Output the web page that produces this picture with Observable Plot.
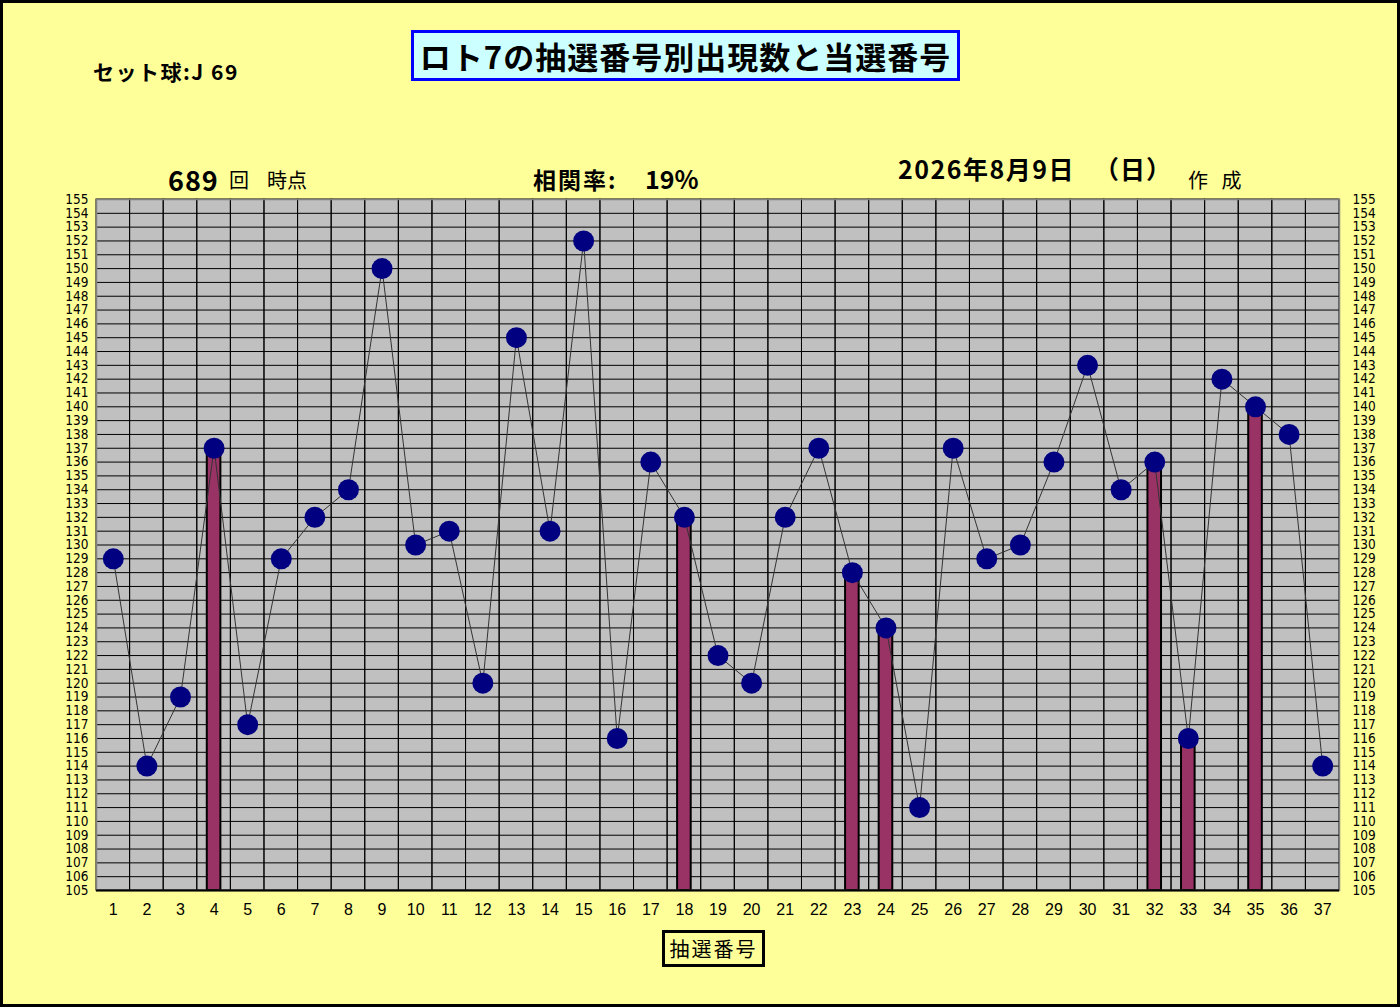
<!DOCTYPE html>
<html><head><meta charset="utf-8">
<script src="https://cdn.jsdelivr.net/npm/d3@7"></script>
<script src="https://cdn.jsdelivr.net/npm/@observablehq/plot@0.6"></script>
<style>
body{margin:0;background:#FFFF99;}
#wrap{position:relative;width:1400px;height:1007px;background:#FFFF99;overflow:hidden;font-family:"Noto Sans CJK JP","Noto Sans",sans-serif;}
#frame{position:absolute;left:0;top:0;width:1400px;height:1007px;box-sizing:border-box;border:3px solid #000;pointer-events:none;}
.t{position:absolute;white-space:nowrap;color:#000;line-height:1;}
#chart{position:absolute;left:0;top:0;}
</style></head><body>
<div id="wrap">
<div id="chart"></div>
<div class="t" style="left:411px;top:30px;width:543px;height:45px;border:3px solid #0000FF;background:#CCFFFF;font-size:31px;font-weight:bold;line-height:45px;text-align:center;letter-spacing:1px;">ロト7の抽選番号別出現数と当選番号</div>
<div class="t" style="left:93px;top:61px;font-size:21px;font-weight:bold;letter-spacing:1.5px;">セット球:J 69</div>
<div class="t" style="left:168px;top:166px;font-size:27px;font-weight:bold;letter-spacing:1px;">689</div>
<div class="t" style="left:229px;top:170px;font-size:20px;">回</div>
<div class="t" style="left:267px;top:170px;font-size:20px;">時点</div>
<div class="t" style="left:533px;top:168px;font-size:23px;font-weight:bold;letter-spacing:2px;">相関率:</div>
<div class="t" style="left:645px;top:166px;font-size:25px;font-weight:bold;">19%</div>
<div class="t" style="left:898px;top:156px;font-size:25px;font-weight:bold;letter-spacing:1.5px;">2026年8月9日</div>
<div class="t" style="left:1094px;top:156px;font-size:25px;font-weight:bold;letter-spacing:1px;">（日）</div>
<div class="t" style="left:1188px;top:170px;font-size:20px;">作&nbsp;&nbsp;&nbsp;成</div>
<div class="t" style="left:662px;top:930px;width:97px;height:31px;border:3px solid #000;background:#FFFF99;font-size:20px;line-height:31px;text-align:center;letter-spacing:2px;">抽選番号</div>
<div id="frame"></div>
</div>
<script>
const numbers = [1,2,3,4,5,6,7,8,9,10,11,12,13,14,15,16,17,18,19,20,21,22,23,24,25,26,27,28,29,30,31,32,33,34,35,36,37];
const counts = [129,114,119,137,117,129,132,134,150,130,131,120,145,131,152,116,136,132,122,120,132,137,128,124,111,137,129,130,136,143,134,136,116,142,140,138,114];
const winners = [4,18,23,24,32,33,35];
const yTicks = [105,106,107,108,109,110,111,112,113,114,115,116,117,118,119,120,121,122,123,124,125,126,127,128,129,130,131,132,133,134,135,136,137,138,139,140,141,142,143,144,145,146,147,148,149,150,151,152,153,154,155];
const yMin = 105, yMax = 155;

const rows = numbers.map((n, i) => ({n, c: counts[i], win: winners.includes(n)}));
const winRows = rows.filter(d => d.win);

const narrow = '"Liberation Sans Narrow","DejaVu Sans Condensed","Arial Narrow",sans-serif';

const chart = Plot.plot({
  width: 1400,
  height: 1007,
  marginLeft: 96,
  marginRight: 61,
  marginTop: 199,
  marginBottom: 117,
  style: {background: "transparent", color: "#000"},
  x: {type: "band", domain: numbers, padding: 0, round: false, label: null},
  y: {domain: [yMin, yMax], label: null},
  marks: [
    Plot.frame({fill: "#C0C0C0"}),
    Plot.ruleY(yTicks, {stroke: "#000", strokeWidth: 1}),
    Plot.barY(numbers, {x: d => d, y1: yMin, y2: yMax, fill: "none", stroke: "#000", strokeWidth: 1}),
    Plot.barY(winRows, {x: "n", y1: yMin, y2: "c", fill: "#993366", stroke: "#000", strokeWidth: 2, insetLeft: 10, insetRight: 10}),
    Plot.line(rows, {x: "n", y: "c", stroke: "#333", strokeWidth: 1}),
    Plot.dot(rows, {x: "n", y: "c", r: 10.5, fill: "#000080", stroke: "none"}),
    Plot.frame({stroke: "#808080", strokeWidth: 1.5}),
    Plot.ruleY([yMin], {stroke: "#000", strokeWidth: 2}),
    Plot.axisY({anchor: "left", ticks: yTicks, tickSize: 0, tickPadding: 8, fontSize: 13.5, fontFamily: narrow, label: null, tickFormat: d => d}),
    Plot.axisY({anchor: "right", ticks: yTicks, tickSize: 0, tickPadding: 13, fontSize: 13.5, fontFamily: narrow, label: null, tickFormat: d => d}),
    Plot.axisX({tickSize: 0, tickPadding: 13, fontSize: 16, fontFamily: '"Liberation Sans",Arial,sans-serif', label: null})
  ]
});
document.getElementById("chart").appendChild(chart);
</script>
</body></html>
